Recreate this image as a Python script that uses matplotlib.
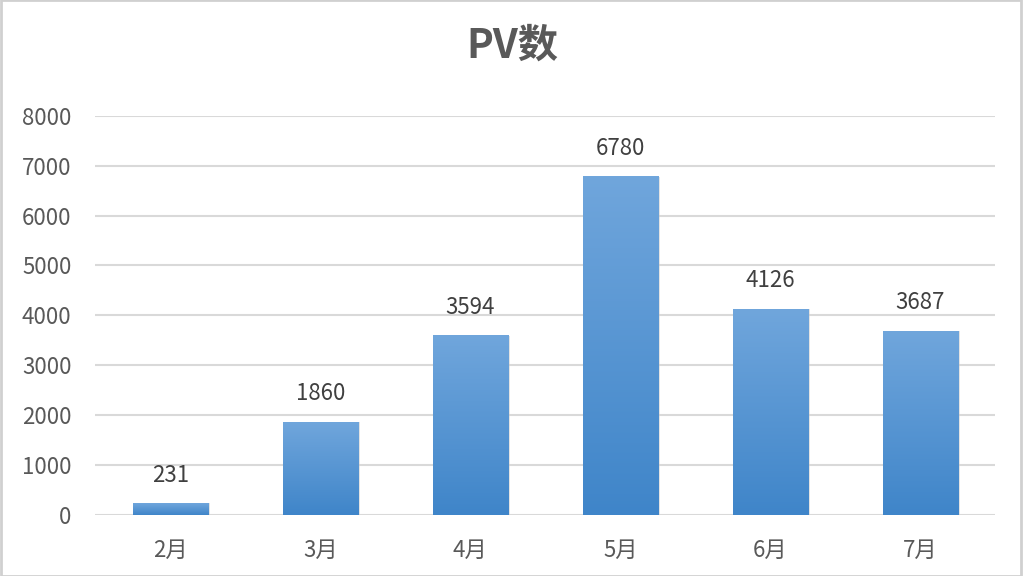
import matplotlib.pyplot as plt
import numpy as np
from matplotlib.colors import LinearSegmentedColormap
from matplotlib.patches import Rectangle

plt.rcParams['font.family'] = ['Noto Sans CJK SC', 'DejaVu Sans']

months = ["2月", "3月", "4月", "5月", "6月", "7月"]
pv = [231, 1860, 3594, 6780, 4126, 3687]
yticks = [0, 1000, 2000, 3000, 4000, 5000, 6000, 7000, 8000]

fig = plt.figure(figsize=(10.24, 5.76), dpi=100)
ax = fig.add_axes([0.093, 0.106, 0.879, 0.693])

x = np.arange(len(months))
bars = ax.bar(x, pv, width=0.5, color="none", zorder=3)

# gradient fill for each bar (lighter top, darker bottom)
cmap = LinearSegmentedColormap.from_list("blu", ["#3f85c9", "#70a6dc"])
grad = np.linspace(0, 1, 256).reshape(-1, 1)
for b in bars:
    x0, w, h = b.get_x(), b.get_width(), b.get_height()
    # soft shadow
    ax.add_patch(Rectangle((x0 + 0.012, 0), w, h, facecolor="#c8c8c8",
                           edgecolor="none", alpha=0.5, zorder=2))
    ax.imshow(grad, cmap=cmap, origin="lower", aspect="auto",
              extent=(x0, x0 + w, 0, h), zorder=3)

for xi, v in zip(x, pv):
    ax.annotate(str(v), (xi, v), xytext=(0, 12), textcoords="offset points",
                ha="center", va="bottom", fontsize=16, color="#404040")

ax.set_xlim(-0.5, len(months) - 0.5)
ax.set_ylim(0, 8000)
ax.set_yticks(yticks)
ax.set_xticks(x)
ax.set_xticklabels(months)
ax.yaxis.grid(True, color="#d9d9d9", linewidth=1.5, zorder=0)
ax.set_axisbelow(True)
for s in ax.spines.values():
    s.set_visible(False)
ax.tick_params(axis="both", length=0, labelsize=16, labelcolor="#595959")
ax.tick_params(axis="x", pad=17)
ax.tick_params(axis="y", pad=17)

fig.text(0.5, 0.92, "PV数", ha="center", va="center", fontsize=29,
         fontweight="bold", color="#595959")

fig.patches.append(Rectangle((0.001, 0.0), 0.996, 1.0, transform=fig.transFigure,
                             facecolor="none", edgecolor="#d0d0d0", linewidth=2))

fig.savefig("out.png", dpi=100)
